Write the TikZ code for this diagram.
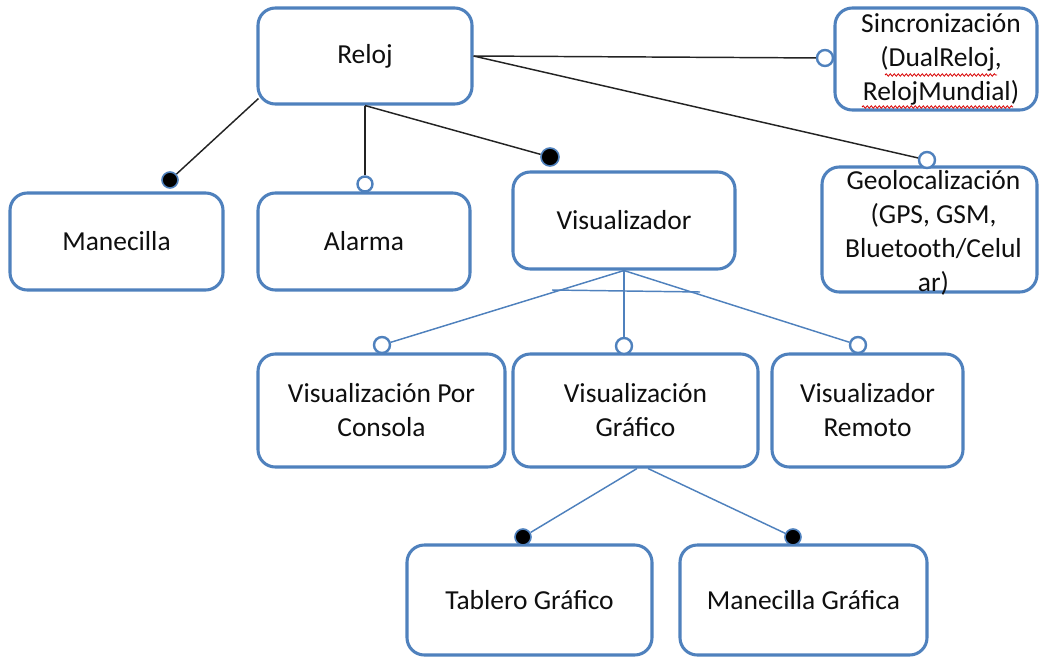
\documentclass[tikz,border=0pt]{standalone}
\usepackage{fontspec}
\setmainfont{Carlito}
\usetikzlibrary{calc,decorations.pathmorphing}
\definecolor{bxblue}{RGB}{79,129,189}
\definecolor{txtc}{RGB}{15,15,15}
\definecolor{lnblack}{RGB}{35,35,35}
\tikzset{
  bx/.style 2 args={draw=bxblue, line width=2.3pt, rounded corners=13pt, fill=white,
    minimum width=#1*0.75pt, minimum height=#2*0.75pt, inner sep=0pt},
  txt/.style={font=\fontsize{20.6}{25.5}\selectfont, text=txtc, align=center, inner sep=0pt},
  oc/.style={circle, draw=bxblue, line width=1.8pt, fill=white, minimum size=#1*0.75pt, inner sep=0pt},
  fc/.style={circle, draw=bxblue, line width=1.2pt, fill=black, minimum size=#1*0.75pt, inner sep=0pt},
  blk/.style={draw=lnblack, line width=1.1pt},
  blu/.style={draw=bxblue, line width=1.1pt},
  wavy/.style={draw=red!85!black, line width=0.6pt, decorate, decoration={snake, amplitude=0.9pt, segment length=3pt}}
}
\begin{document}
\begin{tikzpicture}[x=0.75pt,y=-0.75pt]
\useasboundingbox (0,0) rectangle (1039,657);
% boxes
\node[bx={214}{96}] (reloj) at (365,56) {};
\node[bx={202}{102}] (sinc) at (936,59) {};
\node[bx={215}{125}] (geo) at (929.5,229.5) {};
\node[bx={213}{97}] (man) at (116.5,241.5) {};
\node[bx={212}{97}] (ala) at (364,241.5) {};
\node[bx={222}{97}] (vis) at (624,220.5) {};
\node[bx={247}{113}] (con) at (381.5,410.5) {};
\node[bx={245}{113}] (gra) at (635.5,410.5) {};
\node[bx={191}{113}] (rem) at (867.5,410.5) {};
\node[bx={245}{110}] (tab) at (529.5,600) {};
\node[bx={247}{110}] (mg) at (803.5,600) {};
% texts
\node[txt] (treloj) at (reloj.center) {Reloj};
\node[txt] (tsinc) at ($(sinc.center)+(5,0)$) {Sincronización\\(DualReloj,\\RelojMundial)};
\node[txt] (tgeo) at ($(geo.center)+(4,3)$) {Geolocalización\\(GPS, GSM,\\Bluetooth/Celul\\ar)};
\node[txt] (tman) at (man.center) {Manecilla};
\node[txt] (tala) at (ala.center) {Alarma};
\node[txt] (tvis) at (vis.center) {Visualizador};
\node[txt] (tcon) at (con.center) {Visualización Por\\Consola};
\node[txt] (tgra) at (gra.center) {Visualización\\Gráfico};
\node[txt] (trem) at (rem.center) {Visualizador\\Remoto};
\node[txt] (ttab) at (tab.center) {Tablero Gráfico};
\node[txt] (tmg) at (mg.center) {Manecilla Gráfica};
% spell-check underlines
\coordinate (w1a) at (885,75); \coordinate (w1b) at (997,75);
\coordinate (w2a) at (862,107); \coordinate (w2b) at (1013,107);
\draw[wavy] (w1a) -- (w1b);
\draw[wavy] (w2a) -- (w2b);
% circles
\node[fc=16] (cman) at (170,180) {};
\node[oc=15] (cala) at (365,184) {};
\node[fc=18] (cvis) at (550,157) {};
\node[oc=16] (csin) at (825,58) {};
\node[oc=16] (cgeo) at (927,160) {};
\node[oc=16] (ccon) at (382,345) {};
\node[oc=16] (cgra) at (624,346) {};
\node[oc=16] (crem) at (858,345) {};
\node[fc=16] (ctab) at (523,537) {};
\node[fc=16] (cmg) at (793,537) {};
% connectors (top, black)
\draw[blk] ($(reloj.south west)+(2,-7)$) -- (cman);
\draw[blk] (reloj.south) -- (cala);
\draw[blk] (reloj.south) -- (cvis);
\draw[blk] (reloj.east) -- (csin);
\draw[blk] (reloj.east) -- (cgeo);
% connectors (blue)
\draw[blu] (vis.south) -- (ccon);
\draw[blu] (vis.south) -- (cgra);
\draw[blu] (vis.south) -- (crem);
\coordinate (xa) at (552,290);
\coordinate (xb) at (700,292);
\draw[blu] (xa) -- (xb);
\draw[blu] ($(gra.south)+(1.5,0)$) -- (ctab);
\draw[blu] ($(gra.south)+(12.5,0)$) -- (cmg);
\end{tikzpicture}
\end{document}
